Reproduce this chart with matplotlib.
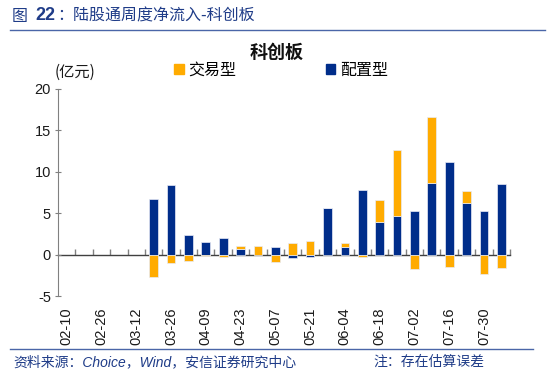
import numpy as np
import matplotlib.pyplot as plt
from matplotlib.patches import Patch

# 周度日期（26周）
weeks = ["02-10", "02-19", "02-26", "03-05", "03-12", "03-19", "03-26", "04-02",
         "04-09", "04-16", "04-23", "04-30", "05-07", "05-14", "05-21", "05-28",
         "06-04", "06-11", "06-18", "06-25", "07-02", "07-09", "07-16", "07-23",
         "07-30", "08-06"]

# 配置型 / 交易型 净流入（亿元）
peizhi = [0, 0, 0, 0, 0, 6.75, 8.44, 2.34, 1.5, 2.0, 0.69, 0.0, 0.9, -0.44,
          -0.3, 5.6, 0.97, 7.84, 3.9, 4.7, 5.25, 8.7, 11.2, 6.26, 5.3, 8.5]
jiaoyi = [0, 0, 0, 0, 0, -2.75, -1.05, -0.73, -0.2, -0.32, 0.4, 1.09, -0.88, 1.37,
          1.7, 0.08, 0.45, -0.3, 2.7, 7.96, -1.78, 7.9, -1.45, 1.37, -2.34, -1.66]

yticks = [-5, 0, 5, 10, 15, 20]

BLUE = "#002D8A"
ORANGE = "#FFAB00"
TXT_BLUE = "#1F3C88"
CJK = ["Noto Sans CJK SC", "DejaVu Sans"]
LAT = ["Liberation Sans", "Noto Sans CJK SC"]

fig = plt.figure(figsize=(5.5, 3.77), dpi=100)
ax = fig.add_axes([58 / 550, 1 - 296 / 377, (510 - 58) / 550, (296 - 89) / 377])

x = np.arange(len(weeks))
p = np.array(peizhi)
j = np.array(jiaoyi)

# 堆积：正值向上、负值向下
pos_bottom = np.zeros(len(x))
neg_bottom = np.zeros(len(x))
for vals, color in [(p, BLUE), (j, ORANGE)]:
    bottom = np.where(vals >= 0, pos_bottom, neg_bottom)
    m = vals != 0
    ax.bar(x[m], vals[m], width=0.5, bottom=bottom[m], color=color,
           edgecolor="#E8EBF5", linewidth=0.5, zorder=2)
    pos_bottom = pos_bottom + np.where(vals > 0, vals, 0)
    neg_bottom = neg_bottom + np.where(vals < 0, vals, 0)

ax.set_xlim(-0.5, len(weeks) - 0.5)
ax.set_ylim(-5, 20)

# 坐标轴样式
for s in ["top", "right", "bottom"]:
    ax.spines[s].set_visible(False)
ax.spines["left"].set_color("#808080")
ax.spines["left"].set_linewidth(0.8)
ax.set_yticks(yticks)
ax.set_yticklabels([str(v) for v in yticks], fontsize=10.5, family=LAT, color="#1a1a1a")
ax.tick_params(axis="y", direction="inout", length=4, width=0.8, color="#808080", pad=3)

ax.set_xticks(x[::2])
ax.set_xticklabels(weeks[::2], rotation=90, fontsize=10.5, family=LAT, color="#1a1a1a")
ax.tick_params(axis="x", length=0, pad=8)

# 零轴及分隔刻度
sec = ax.secondary_xaxis(0, transform=ax.transData)
sec.spines["bottom"].set_color("#404040")
sec.spines["bottom"].set_linewidth(1.0)
sec.set_xticks(np.arange(-0.5, len(weeks), 1.0)[1:])
sec.set_xticklabels([])
sec.tick_params(axis="x", direction="in", length=4.5, width=1.0, color="#808080")

# 图例
handles = [Patch(color=ORANGE, label="交易型"), Patch(color=BLUE, label="配置型")]
fig.legend(handles=handles, loc="upper left", bbox_to_anchor=(174 / 550, 1 - 62 / 377),
           bbox_transform=fig.transFigure, ncol=2, frameon=False, prop={"family": CJK, "size": 11.5},
           handlelength=0.6, handleheight=0.6, handletextpad=0.3, columnspacing=5.6,
           borderpad=0, borderaxespad=0)

fig.text(277 / 550, 1 - 52 / 377, "科创板", ha="center", va="center",
         fontsize=13, fontweight="bold", family=CJK, color="#111111")
fig.text(55 / 550, 1 - 72 / 377, "(亿元)", ha="left", va="center",
         fontsize=11, family=CJK, color="#1a1a1a")

# 标题
fig.text(12 / 550, 1 - 16 / 377, "图", ha="left", va="center", fontsize=11.5,
         family=CJK, color=TXT_BLUE)
fig.text(35 / 550, 1 - 16 / 377, "22", ha="left", va="center", fontsize=13,
         fontweight="bold", family=LAT, color=TXT_BLUE)
fig.text(57 / 550, 1 - 16 / 377, "：陆股通周度净流入-科创板", ha="left", va="center",
         fontsize=11.5, family=CJK, color=TXT_BLUE)
fig.add_artist(plt.Line2D([10 / 550, 545 / 550], [1 - 30 / 377] * 2, color="#4A66A8",
                          lw=1.0, transform=fig.transFigure))

# 脚注
fig.add_artist(plt.Line2D([10 / 550, 533 / 550], [1 - 349 / 377] * 2, color="#4A66A8",
                          lw=1.0, transform=fig.transFigure))
fig.text(13 / 550, 1 - 362 / 377, "资料来源：Choice，Wind，安信证券研究中心", ha="left", va="center",
         fontsize=10, style="italic", family=LAT, color=TXT_BLUE)
fig.text(373 / 550, 1 - 362 / 377, "注：存在估算误差", ha="left", va="center",
         fontsize=10, style="italic", family=LAT, color=TXT_BLUE)

fig.savefig("out.png", dpi=100)
